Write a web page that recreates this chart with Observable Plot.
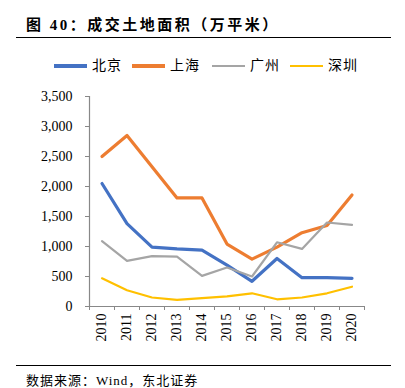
<!DOCTYPE html>
<html><head><meta charset="utf-8">
<script src="https://cdn.jsdelivr.net/npm/d3@7"></script>
<script src="https://cdn.jsdelivr.net/npm/@observablehq/plot@0.6"></script>
<style>
body{margin:0;background:#fff;}
#wrap{position:relative;width:405px;height:388px;overflow:hidden;font-family:"Liberation Serif","Noto Sans CJK SC",serif;color:#000;}
.abs{position:absolute;white-space:nowrap;}
#title{left:26px;top:16px;font-size:15px;line-height:18px;font-weight:bold;letter-spacing:2.5px;}
.hr{position:absolute;left:16px;width:375px;height:1px;background:#000;}
#legend{left:0;top:57px;width:405px;font-size:14px;line-height:18px;}
.li{position:absolute;top:0;display:flex;align-items:center;height:18px;}
.sw{width:33px;height:3px;margin-right:5px;}
#src{left:26px;top:373px;font-size:13px;line-height:15px;letter-spacing:1px;}
</style></head>
<body><div id="wrap"></div>
<script>
const years = [2010,2011,2012,2013,2014,2015,2016,2017,2018,2019,2020];
const beijing   = [2050,1380,990,960,940,690,420,800,480,480,470];
const shanghai  = [2500,2850,2330,1810,1810,1040,790,990,1230,1350,1860];
const guangzhou = [1090,760,840,830,510,650,500,1070,960,1400,1360];
const shenzhen  = [470,270,150,110,140,170,220,120,150,220,330];
const seriesNames = ["北京","上海","广州","深圳"];
const seriesColors = ["#4472C4","#ED7D31","#A5A5A5","#FFC000"];
const seriesWidths = [3.2,3.2,2.2,2.2];
const yTicks = [0,500,1000,1500,2000,2500,3000,3500];

const allSeries = [beijing, shanghai, guangzhou, shenzhen];
const data = [];
allSeries.forEach((vals, si) => vals.forEach((v, i) => data.push({year: years[i], value: v, city: seriesNames[si]})));

const wrap = document.getElementById("wrap");
const chart = Plot.plot({
  width: 405, height: 388,
  marginTop: 96, marginBottom: 82, marginLeft: 89, marginRight: 41,
  style: {fontFamily: '"Liberation Serif","Noto Sans CJK SC",serif', fontSize: "14px", color: "#000", background: "transparent"},
  x: {type: "linear", domain: [years[0]-0.5, years[years.length-1]+0.5]},
  y: {domain: [0, 3500]},
  marks: [
    Plot.axisY({ticks: yTicks, tickFormat: d3.format(","), tickSize: 4, tickPadding: 13, stroke: "#888", label: null, fontSize: 14}),
    Plot.axisX({ticks: years, tickSize: 0, tickPadding: 7, tickRotate: -90, tickFormat: d => String(d), label: null, fontSize: 14}),
    Plot.axisX({ticks: d3.range(years[0]-0.5, years[years.length-1]+1, 1), tickSize: 4, tickFormat: () => "", stroke: "#888", label: null}),
    Plot.ruleX([years[0]-0.5], {stroke: "#888", strokeWidth: 1.2}),
    Plot.ruleY([0], {stroke: "#888", strokeWidth: 1.2}),
    ...seriesNames.map((n, si) => Plot.line(data.filter(d => d.city === n), {x: "year", y: "value", stroke: seriesColors[si], strokeWidth: seriesWidths[si], strokeLinejoin: "round"}))
  ]
});
chart.style.position = "absolute";
chart.style.left = "0px";
chart.style.top = "0px";
wrap.appendChild(chart);

const t = document.createElement("div"); t.className = "abs"; t.id = "title"; t.textContent = "图 40：成交土地面积（万平米）"; wrap.appendChild(t);
const h1 = document.createElement("div"); h1.className = "hr"; h1.style.top = "37px"; wrap.appendChild(h1);
const h2 = document.createElement("div"); h2.className = "hr"; h2.style.top = "365px"; wrap.appendChild(h2);
const lg = document.createElement("div"); lg.className = "abs"; lg.id = "legend"; wrap.appendChild(lg);
const lx = [54, 132, 212, 290];
seriesNames.forEach((n, i) => {
  const it = document.createElement("div"); it.className = "li"; it.style.left = lx[i] + "px";
  const sw = document.createElement("div"); sw.className = "sw"; sw.style.background = seriesColors[i]; sw.style.height = (i < 2 ? 3.5 : 2.5) + "px";
  const tx = document.createElement("span"); tx.textContent = n; tx.style.letterSpacing = "1px";
  it.appendChild(sw); it.appendChild(tx); lg.appendChild(it);
});
const s = document.createElement("div"); s.className = "abs"; s.id = "src"; s.textContent = "数据来源：Wind，东北证券"; wrap.appendChild(s);
</script></body></html>
